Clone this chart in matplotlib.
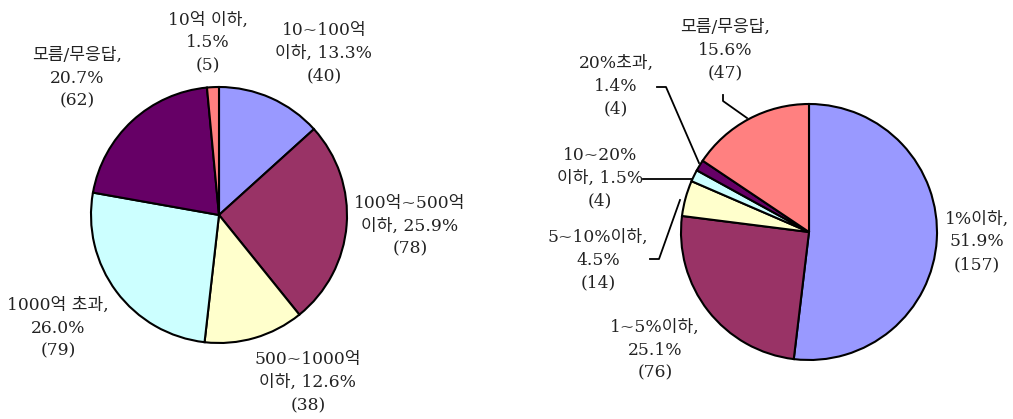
import matplotlib
matplotlib.use("Agg")
import matplotlib.pyplot as plt

plt.rcParams['font.family'] = ['DejaVu Serif', 'Noto Sans CJK KR', 'DejaVu Sans']

# left: 예산 규모
left_labels = ['10~100억\n이하', '100억~500억\n이하', '500~1000억\n이하',
               '1000억 초과', '모름/무응답', '10억 이하']
left_pct = [13.3, 25.9, 12.6, 26.0, 20.7, 1.5]
left_n = [40, 78, 38, 79, 62, 5]
left_colors = ['#9999FF', '#993366', '#FFFFCC', '#CCFFFF', '#660066', '#FF8080']

# right: 비율
right_labels = ['1%이하', '1~5%이하', '5~10%이하', '10~20%\n이하', '20%초과', '모름/무응답']
right_pct = [51.9, 25.1, 4.5, 1.5, 1.4, 15.6]
right_n = [157, 76, 14, 4, 4, 47]
right_colors = ['#9999FF', '#993366', '#FFFFCC', '#CCFFFF', '#660066', '#FF8080']

W, H = 1013, 419
R = 128  # pie radius in px


def pie_axes(fig, cx, cy):
    ax = fig.add_axes([(cx - R) / W, (H - cy - R) / H, 2 * R / W, 2 * R / H])
    ax.axis('off')
    return ax


def label_text(lab, pct, n):
    if '\n' in lab:
        return '%s, %.1f%%\n(%d)' % (lab, pct, n)
    return '%s,\n%.1f%%\n(%d)' % (lab, pct, n)


fig = plt.figure(figsize=(W / 100, H / 100), dpi=100)
fig.patch.set_facecolor('white')

wedge = dict(edgecolor='black', linewidth=1.5)
tkw = dict(ha='center', va='center', fontsize=12.3, linespacing=1.45, color='#222222')

# ---- left pie
ax1 = pie_axes(fig, 219, 215)
ax1.pie(left_pct, colors=left_colors, startangle=90, counterclock=False,
        radius=1, wedgeprops=wedge)
ax1.set_xlim(-1.0, 1.0)
ax1.set_ylim(-1.0, 1.0)
left_pos = [(0.82, 1.266), (1.492, -0.086), (0.695, -1.31),
            (-1.258, -0.883), (-1.109, 1.07), (-0.086, 1.344)]
for lab, p, n, (x, y) in zip(left_labels, left_pct, left_n, left_pos):
    ax1.text(x, y, label_text(lab, p, n), clip_on=False, **tkw)

# ---- right pie
ax2 = pie_axes(fig, 809, 232)
ax2.pie(right_pct, colors=right_colors, startangle=90, counterclock=False,
        radius=1, wedgeprops=wedge)
ax2.set_xlim(-1.0, 1.0)
ax2.set_ylim(-1.0, 1.0)
right_pos = [(1.3125, -0.078), (-1.203, -0.922), (-1.648, -0.219),
             (-1.633, 0.422), (-1.508, 1.14), (-0.656, 1.42)]
for lab, p, n, (x, y) in zip(right_labels, right_pct, right_n, right_pos):
    ax2.text(x, y, label_text(lab, p, n), clip_on=False, **tkw)


def px(x, y, cx=809, cy=232):
    return (x - cx) / R, (cy - y) / R


# leader lines for the small slices
leaders = [
    [(723, 95), (723, 101), (747, 118)],
    [(657, 87), (666, 87), (699, 163)],
    [(643, 179), (692, 179)],
    [(650, 259), (659, 259), (680, 200)],
]
for pts in leaders:
    xs, ys = zip(*[px(*p) for p in pts])
    ax2.plot(xs, ys, color='black', linewidth=1.3, clip_on=False)

fig.savefig('out.png', dpi=100, facecolor='white')
